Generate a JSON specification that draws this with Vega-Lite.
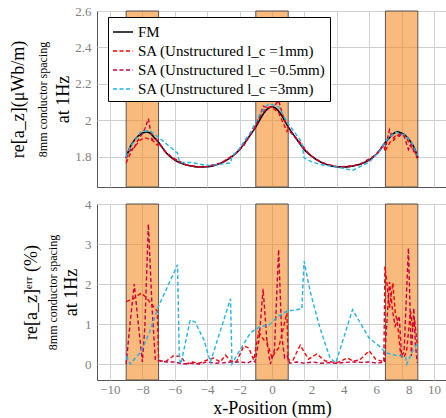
{
  "$schema": "https://vega.github.io/schema/vega-lite/v6.json",
  "padding": {"left": 8, "top": 4, "right": 0, "bottom": 0},
  "spacing": 9,
  "config": {
    "font": "Liberation Serif",
    "view": {"stroke": "#555555", "strokeWidth": 1},
    "axis": {"gridColor": "#d0d0d0", "gridOpacity": 1, "labelColor": "#7f7f7f", "labelFontSize": 13, "titleColor": "#000000", "titleFontWeight": "normal", "domain": false, "ticks": false}
  },
  "datasets": {
    "bands": [{"a": -9, "b": -7}, {"a": -1, "b": 1}, {"a": 7, "b": 9}],
    "fm": [
      {"s":"FM","x":-9,"v":1.795},{"s":"FM","x":-8.75,"v":1.855},{"s":"FM","x":-8.5,"v":1.89},{"s":"FM","x":-8.25,"v":1.915},{"s":"FM","x":-8,"v":1.93},{"s":"FM","x":-7.75,"v":1.937},{"s":"FM","x":-7.5,"v":1.928},{"s":"FM","x":-7.25,"v":1.905},{"s":"FM","x":-7,"v":1.88},{"s":"FM","x":-6.5,"v":1.82},{"s":"FM","x":-6,"v":1.783},{"s":"FM","x":-5.5,"v":1.762},{"s":"FM","x":-5,"v":1.75},{"s":"FM","x":-4.5,"v":1.745},{"s":"FM","x":-4,"v":1.746},{"s":"FM","x":-3.5,"v":1.755},{"s":"FM","x":-3,"v":1.772},{"s":"FM","x":-2.5,"v":1.8},{"s":"FM","x":-2,"v":1.84},{"s":"FM","x":-1.5,"v":1.9},{"s":"FM","x":-1,"v":1.965},{"s":"FM","x":-0.5,"v":2.04},{"s":"FM","x":-0.25,"v":2.065},{"s":"FM","x":0,"v":2.075},{"s":"FM","x":0.25,"v":2.065},{"s":"FM","x":0.5,"v":2.04},{"s":"FM","x":1,"v":1.965},{"s":"FM","x":1.5,"v":1.9},{"s":"FM","x":2,"v":1.84},{"s":"FM","x":2.5,"v":1.8},{"s":"FM","x":3,"v":1.772},{"s":"FM","x":3.5,"v":1.755},{"s":"FM","x":4,"v":1.746},{"s":"FM","x":4.5,"v":1.745},{"s":"FM","x":5,"v":1.75},{"s":"FM","x":5.5,"v":1.762},{"s":"FM","x":6,"v":1.783},{"s":"FM","x":6.5,"v":1.82},{"s":"FM","x":7,"v":1.88},{"s":"FM","x":7.25,"v":1.905},{"s":"FM","x":7.5,"v":1.928},{"s":"FM","x":7.75,"v":1.937},{"s":"FM","x":8,"v":1.93},{"s":"FM","x":8.25,"v":1.915},{"s":"FM","x":8.5,"v":1.89},{"s":"FM","x":8.75,"v":1.855},{"s":"FM","x":9,"v":1.795}
    ],
    "satop": [
      {"s":"SA1","x":-9,"v":1.767},{"s":"SA1","x":-8.6,"v":1.845},{"s":"SA1","x":-8.08,"v":1.896},{"s":"SA1","x":-7.8,"v":1.904},{"s":"SA1","x":-7.4,"v":1.892},{"s":"SA1","x":-7.08,"v":1.865},{"s":"SA1","x":-7,"v":1.878},{"s":"SA1","x":-6.6,"v":1.828},{"s":"SA1","x":-6.1,"v":1.794},{"s":"SA1","x":-5.3,"v":1.757},{"s":"SA1","x":-4.5,"v":1.745},{"s":"SA1","x":-4,"v":1.748},{"s":"SA1","x":-3.2,"v":1.766},{"s":"SA1","x":-2.87,"v":1.782},{"s":"SA1","x":-2.2,"v":1.823},{"s":"SA1","x":-1.74,"v":1.862},{"s":"SA1","x":-1.13,"v":1.953},{"s":"SA1","x":-0.82,"v":2.016},{"s":"SA1","x":-0.31,"v":2.071},{"s":"SA1","x":0,"v":2.072},{"s":"SA1","x":0.41,"v":2.042},{"s":"SA1","x":0.92,"v":1.94},{"s":"SA1","x":1,"v":1.953},{"s":"SA1","x":1.74,"v":1.879},{"s":"SA1","x":2.25,"v":1.818},{"s":"SA1","x":2.76,"v":1.785},{"s":"SA1","x":3.27,"v":1.763},{"s":"SA1","x":4.05,"v":1.746},{"s":"SA1","x":4.66,"v":1.749},{"s":"SA1","x":5.4,"v":1.758},{"s":"SA1","x":5.99,"v":1.789},{"s":"SA1","x":6.4,"v":1.812},{"s":"SA1","x":6.9,"v":1.866},{"s":"SA1","x":6.97,"v":1.829},{"s":"SA1","x":7.1,"v":1.852},{"s":"SA1","x":7.32,"v":1.885},{"s":"SA1","x":7.46,"v":1.886},{"s":"SA1","x":7.69,"v":1.913},{"s":"SA1","x":7.93,"v":1.929},{"s":"SA1","x":8.1,"v":1.922},{"s":"SA1","x":8.3,"v":1.905},{"s":"SA1","x":8.55,"v":1.858},{"s":"SA1","x":8.68,"v":1.849},{"s":"SA1","x":8.8,"v":1.83},{"s":"SA1","x":8.96,"v":1.791},
      {"s":"SA05","x":-9,"v":1.795},{"s":"SA05","x":-8.75,"v":1.836},{"s":"SA05","x":-8.5,"v":1.852},{"s":"SA05","x":-8.3,"v":1.887},{"s":"SA05","x":-8,"v":1.929},{"s":"SA05","x":-7.85,"v":1.953},{"s":"SA05","x":-7.63,"v":2.01},{"s":"SA05","x":-7.4,"v":1.893},{"s":"SA05","x":-7.2,"v":1.902},{"s":"SA05","x":-7,"v":1.879},{"s":"SA05","x":-6.5,"v":1.82},{"s":"SA05","x":-6,"v":1.784},{"s":"SA05","x":-5.5,"v":1.762},{"s":"SA05","x":-5,"v":1.75},{"s":"SA05","x":-4.5,"v":1.745},{"s":"SA05","x":-4,"v":1.747},{"s":"SA05","x":-3.5,"v":1.755},{"s":"SA05","x":-3,"v":1.772},{"s":"SA05","x":-2.5,"v":1.8},{"s":"SA05","x":-2,"v":1.84},{"s":"SA05","x":-1.5,"v":1.9},{"s":"SA05","x":-1.2,"v":1.94},{"s":"SA05","x":-1.05,"v":1.958},{"s":"SA05","x":-0.8,"v":2.01},{"s":"SA05","x":-0.55,"v":2.078},{"s":"SA05","x":-0.3,"v":2.072},{"s":"SA05","x":-0.1,"v":2.073},{"s":"SA05","x":0.15,"v":2.079},{"s":"SA05","x":0.41,"v":2.109},{"s":"SA05","x":0.6,"v":2.049},{"s":"SA05","x":0.78,"v":1.997},{"s":"SA05","x":0.95,"v":1.97},{"s":"SA05","x":1.1,"v":1.94},{"s":"SA05","x":1.5,"v":1.9},{"s":"SA05","x":2,"v":1.84},{"s":"SA05","x":2.5,"v":1.8},{"s":"SA05","x":3,"v":1.772},{"s":"SA05","x":3.5,"v":1.755},{"s":"SA05","x":4,"v":1.746},{"s":"SA05","x":4.5,"v":1.745},{"s":"SA05","x":5,"v":1.75},{"s":"SA05","x":5.5,"v":1.762},{"s":"SA05","x":6,"v":1.783},{"s":"SA05","x":6.5,"v":1.82},{"s":"SA05","x":6.95,"v":1.874},{"s":"SA05","x":7.05,"v":1.87},{"s":"SA05","x":7.25,"v":1.949},{"s":"SA05","x":7.45,"v":1.9},{"s":"SA05","x":7.6,"v":1.914},{"s":"SA05","x":7.85,"v":1.913},{"s":"SA05","x":8,"v":1.926},{"s":"SA05","x":8.15,"v":1.914},{"s":"SA05","x":8.42,"v":1.84},{"s":"SA05","x":8.6,"v":1.871},{"s":"SA05","x":8.75,"v":1.829},{"s":"SA05","x":8.85,"v":1.826},{"s":"SA05","x":8.96,"v":1.8},
      {"s":"SA3","x":-9,"v":1.799},{"s":"SA3","x":-8.75,"v":1.855},{"s":"SA3","x":-8.1,"v":1.936},{"s":"SA3","x":-7.55,"v":1.945},{"s":"SA3","x":-7,"v":1.907},{"s":"SA3","x":-5.83,"v":1.821},{"s":"SA3","x":-5.72,"v":1.775},{"s":"SA3","x":-5.62,"v":1.769},{"s":"SA3","x":-5.05,"v":1.77},{"s":"SA3","x":-4.75,"v":1.765},{"s":"SA3","x":-4.2,"v":1.756},{"s":"SA3","x":-3.8,"v":1.753},{"s":"SA3","x":-2.56,"v":1.767},{"s":"SA3","x":-2.47,"v":1.803},{"s":"SA3","x":-2.05,"v":1.842},{"s":"SA3","x":-1.33,"v":1.935},{"s":"SA3","x":-0.72,"v":2.039},{"s":"SA3","x":-0.2,"v":2.092},{"s":"SA3","x":0.41,"v":2.075},{"s":"SA3","x":0.92,"v":1.991},{"s":"SA3","x":1.84,"v":1.881},{"s":"SA3","x":1.98,"v":1.795},{"s":"SA3","x":2.35,"v":1.777},{"s":"SA3","x":2.96,"v":1.758},{"s":"SA3","x":3.58,"v":1.75},{"s":"SA3","x":3.94,"v":1.746},{"s":"SA3","x":4.97,"v":1.726},{"s":"SA3","x":5.99,"v":1.771},{"s":"SA3","x":6.7,"v":1.837},{"s":"SA3","x":7.01,"v":1.885},{"s":"SA3","x":7.6,"v":1.936},{"s":"SA3","x":8.24,"v":1.919},{"s":"SA3","x":8.32,"v":1.908},{"s":"SA3","x":8.65,"v":1.874},{"s":"SA3","x":8.98,"v":1.806}
    ],
    "err": [
      {"s":"SA1","x":-9,"e":1.56},{"s":"SA1","x":-8.6,"e":1.62},{"s":"SA1","x":-8.08,"e":1.77},{"s":"SA1","x":-7.8,"e":1.68},{"s":"SA1","x":-7.4,"e":1.48},{"s":"SA1","x":-7.08,"e":1.32},{"s":"SA1","x":-7,"e":0.1},{"s":"SA1","x":-6.6,"e":0.05},{"s":"SA1","x":-6.1,"e":0.2},{"s":"SA1","x":-5.9,"e":0.2},{"s":"SA1","x":-5.6,"e":0.18},{"s":"SA1","x":-5.3,"e":0.0},{"s":"SA1","x":-4.9,"e":0.05},{"s":"SA1","x":-4.5,"e":0.02},{"s":"SA1","x":-4,"e":0.1},{"s":"SA1","x":-3.6,"e":0.15},{"s":"SA1","x":-3.2,"e":0.05},{"s":"SA1","x":-2.87,"e":0.22},{"s":"SA1","x":-2.56,"e":0.08},{"s":"SA1","x":-2.2,"e":0.05},{"s":"SA1","x":-1.74,"e":0.45},{"s":"SA1","x":-1.43,"e":0.4},{"s":"SA1","x":-1.13,"e":0.1},{"s":"SA1","x":-0.82,"e":0.8},{"s":"SA1","x":-0.5,"e":0.6},{"s":"SA1","x":-0.31,"e":0.55},{"s":"SA1","x":0,"e":0.15},{"s":"SA1","x":0.2,"e":0.3},{"s":"SA1","x":0.41,"e":0.4},{"s":"SA1","x":0.92,"e":1.28},{"s":"SA1","x":1,"e":0.1},{"s":"SA1","x":1.3,"e":0.1},{"s":"SA1","x":1.74,"e":0.47},{"s":"SA1","x":2.25,"e":0.12},{"s":"SA1","x":2.76,"e":0.25},{"s":"SA1","x":3.27,"e":0.08},{"s":"SA1","x":3.7,"e":0.05},{"s":"SA1","x":4.05,"e":0.04},{"s":"SA1","x":4.66,"e":0.15},{"s":"SA1","x":5,"e":0.07},{"s":"SA1","x":5.4,"e":0.1},{"s":"SA1","x":5.99,"e":0.33},{"s":"SA1","x":6.4,"e":0.12},{"s":"SA1","x":6.9,"e":0.05},{"s":"SA1","x":6.97,"e":2.44},{"s":"SA1","x":7.1,"e":2.0},{"s":"SA1","x":7.25,"e":1.4},{"s":"SA1","x":7.46,"e":2.03},{"s":"SA1","x":7.6,"e":1.3},{"s":"SA1","x":7.75,"e":1.0},{"s":"SA1","x":7.95,"e":0.2},{"s":"SA1","x":8.1,"e":0.15},{"s":"SA1","x":8.3,"e":0.3},{"s":"SA1","x":8.55,"e":1.32},{"s":"SA1","x":8.68,"e":0.9},{"s":"SA1","x":8.8,"e":1.1},{"s":"SA1","x":8.96,"e":0.5},
      {"s":"SA05","x":-9,"e":0.0},{"s":"SA05","x":-8.75,"e":1.05},{"s":"SA05","x":-8.5,"e":2.0},{"s":"SA05","x":-8.3,"e":1.2},{"s":"SA05","x":-8,"e":0.05},{"s":"SA05","x":-7.85,"e":0.9},{"s":"SA05","x":-7.63,"e":3.5},{"s":"SA05","x":-7.4,"e":1.4},{"s":"SA05","x":-7.2,"e":0.1},{"s":"SA05","x":-7,"e":0.08},{"s":"SA05","x":-6.5,"e":0.05},{"s":"SA05","x":-6,"e":0.05},{"s":"SA05","x":-5.5,"e":0.0},{"s":"SA05","x":-5,"e":0.02},{"s":"SA05","x":-4.5,"e":0.0},{"s":"SA05","x":-4,"e":0.05},{"s":"SA05","x":-3.5,"e":0.02},{"s":"SA05","x":-3,"e":0.03},{"s":"SA05","x":-2.5,"e":0.05},{"s":"SA05","x":-2,"e":0.05},{"s":"SA05","x":-1.5,"e":0.03},{"s":"SA05","x":-1.2,"e":0.08},{"s":"SA05","x":-1.05,"e":0.05},{"s":"SA05","x":-0.8,"e":0.6},{"s":"SA05","x":-0.55,"e":1.88},{"s":"SA05","x":-0.3,"e":0.5},{"s":"SA05","x":-0.1,"e":0.0},{"s":"SA05","x":0.15,"e":0.35},{"s":"SA05","x":0.41,"e":2.86},{"s":"SA05","x":0.6,"e":0.7},{"s":"SA05","x":0.78,"e":0.15},{"s":"SA05","x":0.95,"e":0.2},{"s":"SA05","x":1.1,"e":0.02},{"s":"SA05","x":1.5,"e":0.05},{"s":"SA05","x":2,"e":0.02},{"s":"SA05","x":2.5,"e":0.05},{"s":"SA05","x":3,"e":0.02},{"s":"SA05","x":3.5,"e":0.03},{"s":"SA05","x":4,"e":0.02},{"s":"SA05","x":4.5,"e":0.04},{"s":"SA05","x":5,"e":0.05},{"s":"SA05","x":5.5,"e":0.04},{"s":"SA05","x":6,"e":0.05},{"s":"SA05","x":6.5,"e":0.02},{"s":"SA05","x":6.95,"e":0.05},{"s":"SA05","x":7.05,"e":0.8},{"s":"SA05","x":7.25,"e":2.05},{"s":"SA05","x":7.45,"e":1.3},{"s":"SA05","x":7.6,"e":0.95},{"s":"SA05","x":7.85,"e":1.2},{"s":"SA05","x":8,"e":0.2},{"s":"SA05","x":8.15,"e":0.3},{"s":"SA05","x":8.42,"e":2.9},{"s":"SA05","x":8.6,"e":0.2},{"s":"SA05","x":8.75,"e":1.4},{"s":"SA05","x":8.85,"e":0.5},{"s":"SA05","x":8.96,"e":0.03},
      {"s":"SA3","x":-9,"e":0.2},{"s":"SA3","x":-8.75,"e":0.0},{"s":"SA3","x":-8.1,"e":0.3},{"s":"SA3","x":-7.55,"e":0.8},{"s":"SA3","x":-7,"e":1.45},{"s":"SA3","x":-5.83,"e":2.48},{"s":"SA3","x":-5.72,"e":0.12},{"s":"SA3","x":-5.62,"e":0.0},{"s":"SA3","x":-5.05,"e":1.1},{"s":"SA3","x":-4.75,"e":1.05},{"s":"SA3","x":-4.2,"e":0.6},{"s":"SA3","x":-3.8,"e":0.05},{"s":"SA3","x":-2.56,"e":1.63},{"s":"SA3","x":-2.47,"e":0.0},{"s":"SA3","x":-2.05,"e":0.3},{"s":"SA3","x":-1.33,"e":0.78},{"s":"SA3","x":-0.72,"e":0.94},{"s":"SA3","x":-0.2,"e":0.97},{"s":"SA3","x":0.41,"e":1.2},{"s":"SA3","x":0.92,"e":1.32},{"s":"SA3","x":1.84,"e":1.38},{"s":"SA3","x":1.98,"e":2.57},{"s":"SA3","x":2.35,"e":1.82},{"s":"SA3","x":2.96,"e":0.9},{"s":"SA3","x":3.58,"e":0.15},{"s":"SA3","x":3.94,"e":0.03},{"s":"SA3","x":4.97,"e":1.36},{"s":"SA3","x":5.99,"e":0.65},{"s":"SA3","x":6.7,"e":0.42},{"s":"SA3","x":7.01,"e":0.28},{"s":"SA3","x":7.6,"e":0.22},{"s":"SA3","x":8.24,"e":0.19},{"s":"SA3","x":8.32,"e":0.0},{"s":"SA3","x":8.65,"e":0.3},{"s":"SA3","x":8.98,"e":0.52}
    ],
    "one": [{"v": 2}],
    "one2": [{"v": 2}]
  },
  "vconcat": [
    {
      "width": 350,
      "height": 176,
      "layer": [
        {
          "data": {"name": "bands"},
          "mark": {"type": "rect", "fill": "#F58A1F", "fillOpacity": 0.58, "stroke": "#555555", "strokeWidth": 1},
          "encoding": {
            "x": {"field": "a", "type": "quantitative", "scale": {"domain": [-10.8, 10.8], "nice": false, "zero": false}, "axis": {"values": [-10, -8, -6, -4, -2, 0, 2, 4, 6, 8, 10], "labels": false, "title": null, "grid": true, "labelPadding": 0}},
            "x2": {"field": "b"}
          }
        },
        {
          "data": {"name": "fm"},
          "mark": {"type": "line", "interpolate": "monotone", "strokeWidth": 1.6},
          "encoding": {
            "x": {"field": "x", "type": "quantitative", "scale": {"domain": [-10.8, 10.8], "nice": false, "zero": false}, "axis": {"values": [-10, -8, -6, -4, -2, 0, 2, 4, 6, 8, 10], "labels": false, "title": null, "grid": true, "labelPadding": 0}},
            "y": {"field": "v", "type": "quantitative", "scale": {"domain": [1.635, 2.6], "nice": false, "zero": false}, "axis": {"orient": "left", "values": [1.8, 2, 2.2, 2.4, 2.6], "format": "~g", "grid": true, "labelPadding": 6, "title": "at 1Hz", "titleFontSize": 18, "titlePadding": 2}},
            "color": {"field": "s", "type": "nominal", "scale": {"domain": ["FM", "SA1", "SA05", "SA3"], "range": ["#000000", "#FF0000", "#CC0044", "#1EB4EE"]}, "legend": {"orient": "none", "legendX": 11, "legendY": 6, "title": null, "fillColor": "#ffffff", "strokeColor": "#000000", "padding": 4, "labelFontSize": 15, "labelLimit": 400, "labelColor": "#000000", "symbolType": "stroke", "symbolSize": 400, "symbolStrokeWidth": 1.5, "rowPadding": -1, "labelExpr": "datum.label == 'FM' ? 'FM' : datum.label == 'SA1' ? 'SA (Unstructured l_c =1mm)' : datum.label == 'SA05' ? 'SA (Unstructured l_c =0.5mm)' : 'SA (Unstructured l_c =3mm)'"}},
            "strokeDash": {"field": "s", "type": "nominal", "scale": {"domain": ["FM", "SA1", "SA05", "SA3"], "range": [[1, 0], [4, 2.5], [4, 2.5], [4, 2.5]]}, "legend": {"orient": "none", "legendX": 11, "legendY": 6, "title": null, "fillColor": "#ffffff", "strokeColor": "#000000", "padding": 4, "labelFontSize": 15, "labelLimit": 400, "labelColor": "#000000", "symbolType": "stroke", "symbolSize": 400, "symbolStrokeWidth": 1.5, "rowPadding": -1, "labelExpr": "datum.label == 'FM' ? 'FM' : datum.label == 'SA1' ? 'SA (Unstructured l_c =1mm)' : datum.label == 'SA05' ? 'SA (Unstructured l_c =0.5mm)' : 'SA (Unstructured l_c =3mm)'"}}
          }
        },
        {
          "data": {"name": "satop"},
          "mark": {"type": "line", "strokeWidth": 1.4},
          "encoding": {
            "x": {"field": "x", "type": "quantitative", "scale": {"domain": [-10.8, 10.8], "nice": false, "zero": false}, "axis": {"values": [-10, -8, -6, -4, -2, 0, 2, 4, 6, 8, 10], "labels": false, "title": null, "grid": true, "labelPadding": 0}},
            "y": {"field": "v", "type": "quantitative", "scale": {"domain": [1.635, 2.6], "nice": false, "zero": false}, "axis": null},
            "color": {"field": "s", "type": "nominal", "scale": {"domain": ["FM", "SA1", "SA05", "SA3"], "range": ["#000000", "#FF0000", "#CC0044", "#1EB4EE"]}, "legend": {"orient": "none", "legendX": 11, "legendY": 6, "title": null, "fillColor": "#ffffff", "strokeColor": "#000000", "padding": 4, "labelFontSize": 15, "labelLimit": 400, "labelColor": "#000000", "symbolType": "stroke", "symbolSize": 400, "symbolStrokeWidth": 1.5, "rowPadding": -1, "labelExpr": "datum.label == 'FM' ? 'FM' : datum.label == 'SA1' ? 'SA (Unstructured l_c =1mm)' : datum.label == 'SA05' ? 'SA (Unstructured l_c =0.5mm)' : 'SA (Unstructured l_c =3mm)'"}},
            "strokeDash": {"field": "s", "type": "nominal", "scale": {"domain": ["FM", "SA1", "SA05", "SA3"], "range": [[1, 0], [4, 2.5], [4, 2.5], [4, 2.5]]}, "legend": {"orient": "none", "legendX": 11, "legendY": 6, "title": null, "fillColor": "#ffffff", "strokeColor": "#000000", "padding": 4, "labelFontSize": 15, "labelLimit": 400, "labelColor": "#000000", "symbolType": "stroke", "symbolSize": 400, "symbolStrokeWidth": 1.5, "rowPadding": -1, "labelExpr": "datum.label == 'FM' ? 'FM' : datum.label == 'SA1' ? 'SA (Unstructured l_c =1mm)' : datum.label == 'SA05' ? 'SA (Unstructured l_c =0.5mm)' : 'SA (Unstructured l_c =3mm)'"}}
          }
        },
        {
          "data": {"name": "one"},
          "mark": {"type": "rule", "opacity": 0},
          "encoding": {
            "y": {"field": "v", "type": "quantitative", "scale": {"domain": [1.635, 2.6], "nice": false, "zero": false}, "axis": {"orient": "left", "labels": false, "grid": false, "title": "8mm conductor spacing", "titleFontSize": 12, "titlePadding": 48}}
          }
        },
        {
          "data": {"name": "one2"},
          "mark": {"type": "rule", "opacity": 0},
          "encoding": {
            "y": {"field": "v", "type": "quantitative", "scale": {"domain": [1.635, 2.6], "nice": false, "zero": false}, "axis": {"orient": "left", "labels": false, "grid": false, "title": "re[a_z](μWb/m)", "titleFontSize": 18, "titlePadding": 70}}
          }
        }
      ],
      "resolve": {"axis": {"y": "independent"}}
    },
    {
      "width": 350,
      "height": 176,
      "layer": [
        {
          "data": {"name": "bands"},
          "mark": {"type": "rect", "fill": "#F58A1F", "fillOpacity": 0.58, "stroke": "#555555", "strokeWidth": 1},
          "encoding": {
            "x": {"field": "a", "type": "quantitative", "scale": {"domain": [-10.8, 10.8], "nice": false, "zero": false}, "axis": {"values": [-10, -8, -6, -4, -2, 0, 2, 4, 6, 8, 10], "grid": true, "title": "x-Position (mm)", "titleFontSize": 18, "titlePadding": 3, "labelPadding": 3, "labelOffset": {"condition": {"test": "datum.value > 0 && datum.value < 10", "value": 7}, "value": 0}}},
            "x2": {"field": "b"}
          }
        },
        {
          "data": {"name": "err"},
          "mark": {"type": "line", "strokeWidth": 1.4},
          "encoding": {
            "x": {"field": "x", "type": "quantitative", "scale": {"domain": [-10.8, 10.8], "nice": false, "zero": false}, "axis": {"values": [-10, -8, -6, -4, -2, 0, 2, 4, 6, 8, 10], "grid": true, "title": "x-Position (mm)", "titleFontSize": 18, "titlePadding": 3, "labelPadding": 3, "labelOffset": {"condition": {"test": "datum.value > 0 && datum.value < 10", "value": 7}, "value": 0}}},
            "y": {"field": "e", "type": "quantitative", "scale": {"domain": [-0.4, 4], "nice": false, "zero": false}, "axis": {"orient": "left", "values": [0, 1, 2, 3, 4], "format": "~g", "grid": true, "labelPadding": 6, "title": "at 1Hz", "titleFontSize": 18, "titlePadding": 4}},
            "color": {"field": "s", "type": "nominal", "scale": {"domain": ["FM", "SA1", "SA05", "SA3"], "range": ["#000000", "#FF0000", "#CC0044", "#1EB4EE"]}, "legend": null},
            "strokeDash": {"field": "s", "type": "nominal", "scale": {"domain": ["FM", "SA1", "SA05", "SA3"], "range": [[1, 0], [4, 2.5], [4, 2.5], [4, 2.5]]}, "legend": null}
          }
        },
        {
          "data": {"name": "one"},
          "mark": {"type": "rule", "opacity": 0},
          "encoding": {
            "y": {"field": "v", "type": "quantitative", "scale": {"domain": [-0.4, 4], "nice": false, "zero": false}, "axis": {"orient": "left", "labels": false, "grid": false, "title": "8mm conductor spacing", "titleFontSize": 12, "titlePadding": 38}}
          }
        },
        {
          "data": {"name": "one2"},
          "mark": {"type": "rule", "opacity": 0},
          "encoding": {
            "y": {"field": "v", "type": "quantitative", "scale": {"domain": [-0.4, 4], "nice": false, "zero": false}, "axis": {"orient": "left", "labels": false, "grid": false, "title": "re[a_z]ᵉʳʳ (%)", "titleFontSize": 18, "titlePadding": 57}}
          }
        }
      ],
      "resolve": {"axis": {"y": "independent"}}
    }
  ],
  "resolve": {"scale": {"color": "independent", "strokeDash": "independent"}, "legend": {"color": "independent", "strokeDash": "independent"}}
}
